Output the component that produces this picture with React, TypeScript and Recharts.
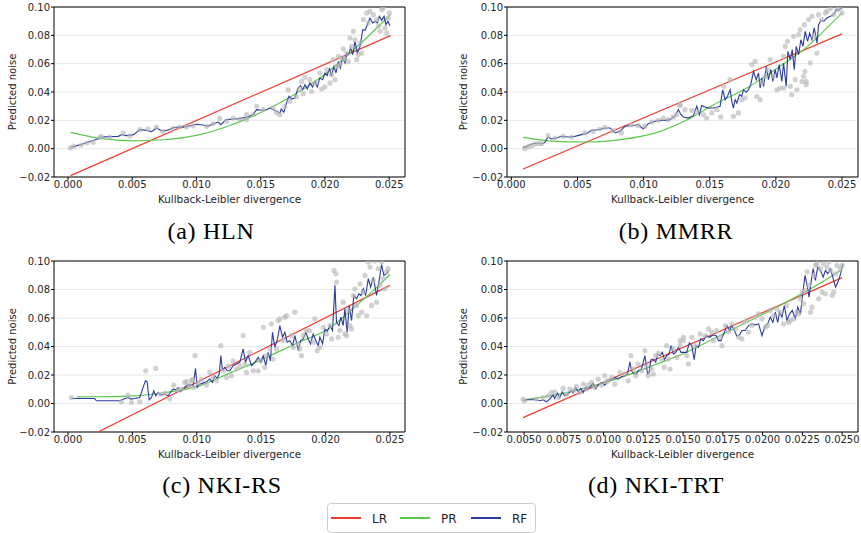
import React from 'react';
import { ComposedChart, Line, Scatter, XAxis, YAxis, CartesianGrid, ReferenceArea } from 'recharts';

type P = [number, number];

// ---------- (a) HLN ----------
const hlnLR: P[] = [[0.0002, -0.019], [0.0251, 0.0798]];
const hlnPR: P[] = [[0.0002, 0.0115], [0.0025, 0.0072], [0.005, 0.0055], [0.0075, 0.0063], [0.010, 0.0094], [0.0125, 0.0160], [0.015, 0.0255], [0.0175, 0.0375], [0.020, 0.0525], [0.0225, 0.0720], [0.0251, 0.0946]];
const hlnRF: P[] = [[0.0002,0.001],[0.0005,0.0016],[0.0012,0.0035],[0.0017,0.005],[0.0022,0.0064],[0.0026,0.0082],[0.0032,0.0085],[0.0039,0.0087],[0.0042,0.010],[0.0045,0.0092],[0.0051,0.0099],[0.0056,0.0134],[0.0061,0.0129],[0.0065,0.012],[0.0069,0.0146],[0.0073,0.0125],[0.0077,0.0129],[0.0082,0.0148],[0.0086,0.0153],[0.009,0.0151],[0.0095,0.0162],[0.010,0.0172],[0.0105,0.0167],[0.0109,0.0158],[0.0113,0.0176],[0.0117,0.0188],[0.0119,0.0169],[0.0123,0.0205],[0.0129,0.0209],[0.0134,0.0212],[0.0139,0.0224],[0.0144,0.024],[0.01468,0.0275],[0.01506,0.0271],[0.01545,0.0275],[0.0157,0.0287],[0.016,0.0275],[0.01623,0.0264],[0.0165,0.0252],[0.0166,0.028],[0.0168,0.0256],[0.017,0.0322],[0.0172,0.037],[0.0174,0.035],[0.01766,0.0358],[0.0179,0.0428],[0.0181,0.0445],[0.01826,0.0416],[0.01844,0.0452],[0.01862,0.0421],[0.01883,0.0464],[0.01904,0.0435],[0.01922,0.0475],[0.0194,0.0435],[0.0196,0.0499],[0.01982,0.0487],[0.02,0.0534],[0.02018,0.0515],[0.02034,0.0569],[0.0205,0.051],[0.0207,0.0581],[0.02086,0.0534],[0.02104,0.0616],[0.0212,0.0569],[0.02138,0.064],[0.02156,0.0605],[0.0217,0.0675],[0.02184,0.0664],[0.022,0.0711],[0.02216,0.0664],[0.02234,0.0758],[0.02252,0.0675],[0.02273,0.0722],[0.02294,0.084],[0.02312,0.0835],[0.0233,0.0875],[0.0235,0.0922],[0.02371,0.0887],[0.0239,0.0899],[0.02408,0.0887],[0.02423,0.0934],[0.02442,0.0906],[0.0246,0.0934],[0.02475,0.0875],[0.0249,0.0899],[0.02506,0.0868]];
const hlnPts: P[] = [[0.00018,0.0005],[0.00044,0.0016],[0.00104,0.0026],[0.00148,0.004],[0.00195,0.0045],[0.00247,0.0078],[0.0026,0.0087],[0.00325,0.0082],[0.00429,0.0111],[0.0048,0.0087],[0.00558,0.0134],[0.00623,0.0139],[0.00688,0.0153],[0.0074,0.0122],[0.00818,0.0144],[0.0087,0.0153],[0.00922,0.0153],[0.00974,0.0162],[0.01078,0.0158],[0.0113,0.0176],[0.01182,0.0214],[0.01234,0.0193],[0.01338,0.0209],[0.0139,0.024],[0.01442,0.024],[0.01286,0.0216],[0.0139,0.0205],[0.01468,0.0299],[0.0152,0.0275],[0.01597,0.0287],[0.01623,0.0256],[0.01649,0.024],[0.01688,0.0299],[0.01714,0.0416],[0.01727,0.0334],[0.01779,0.0369],[0.01805,0.0421],[0.01818,0.0475],[0.01831,0.0388],[0.01844,0.0504],[0.01883,0.0487],[0.01896,0.0405],[0.01922,0.0464],[0.01961,0.0534],[0.01974,0.0421],[0.02,0.0435],[0.02013,0.0558],[0.02039,0.0464],[0.02052,0.0522],[0.02065,0.0628],[0.02078,0.0487],[0.02091,0.0581],[0.02104,0.0652],[0.02117,0.0593],[0.0213,0.064],[0.02143,0.0704],[0.02156,0.0633],[0.02169,0.0675],[0.02182,0.0616],[0.02195,0.0781],[0.02208,0.0722],[0.02221,0.0828],[0.02234,0.0769],[0.02247,0.0628],[0.0226,0.0664],[0.02273,0.0746],[0.02286,0.0675],[0.02299,0.0911],[0.02325,0.0958],[0.02338,0.0887],[0.02351,0.0969],[0.02377,0.0946],[0.02403,0.0911],[0.02416,0.0864],[0.02429,0.0828],[0.02442,0.0981],[0.02455,0.0993],[0.02468,0.0852],[0.02481,0.0816],[0.02494,0.0922],[0.02501,0.0958]];

// ---------- (b) MMRR ----------
const mmrrLR: P[] = [[0.00088, -0.0144], [0.025, 0.081]];
const mmrrPR: P[] = [[0.0009,0.008],[0.0033,0.0052],[0.0058,0.0047],[0.0083,0.0064],[0.0109,0.0111],[0.0131,0.0195],[0.0153,0.031],[0.0178,0.0428],[0.0203,0.0581],[0.0224,0.0722],[0.0236,0.0828],[0.025,0.0958]];
const mmrrRF: P[] = [[0.00088,0.0009],[0.00114,0.0016],[0.00139,0.0028],[0.00164,0.0035],[0.00189,0.004],[0.00227,0.0033],[0.00253,0.0045],[0.00278,0.0082],[0.00303,0.0068],[0.00341,0.0075],[0.00379,0.0087],[0.00429,0.0082],[0.0048,0.0087],[0.0053,0.0099],[0.00568,0.0106],[0.00606,0.0129],[0.00657,0.0134],[0.00707,0.0146],[0.00745,0.0146],[0.00783,0.0111],[0.00821,0.0122],[0.00859,0.0158],[0.00909,0.0162],[0.0096,0.0169],[0.00997,0.0139],[0.01035,0.0176],[0.01086,0.0193],[0.01124,0.02],[0.01162,0.02],[0.012,0.0205],[0.01237,0.0233],[0.01263,0.0275],[0.01283,0.024],[0.01301,0.0224],[0.01338,0.0216],[0.01376,0.0233],[0.01402,0.0299],[0.01422,0.024],[0.01439,0.0304],[0.01465,0.0294],[0.01489,0.0287],[0.01528,0.0287],[0.01578,0.0299],[0.01598,0.0416],[0.01616,0.0346],[0.01634,0.037],[0.01654,0.0416],[0.01667,0.0334],[0.01679,0.0287],[0.01692,0.0346],[0.01705,0.0322],[0.01725,0.0381],[0.01742,0.037],[0.01755,0.0416],[0.01775,0.0398],[0.01793,0.0416],[0.0181,0.0452],[0.01831,0.0546],[0.01851,0.0487],[0.01869,0.0534],[0.01881,0.0428],[0.01894,0.0499],[0.01907,0.044],[0.01927,0.0581],[0.01944,0.0487],[0.01962,0.0558],[0.01977,0.0475],[0.01995,0.0558],[0.02008,0.0499],[0.02025,0.0593],[0.02045,0.0475],[0.02058,0.0605],[0.02078,0.044],[0.02091,0.0687],[0.02109,0.0628],[0.02124,0.0699],[0.02139,0.0558],[0.02154,0.0722],[0.02172,0.0664],[0.02189,0.0769],[0.02205,0.0722],[0.02222,0.0828],[0.0224,0.0758],[0.02255,0.0816],[0.02273,0.0769],[0.0229,0.0852],[0.02311,0.0746],[0.02323,0.0875],[0.02341,0.0906],[0.02361,0.0899],[0.02386,0.0922],[0.02412,0.0934],[0.02437,0.0946],[0.02457,0.0981],[0.02475,0.0976],[0.025,0.1]];
const mmrrPts: P[] = [[0.00101,0.0],[0.00126,0.0012],[0.00152,0.0021],[0.00177,0.0033],[0.00202,0.0035],[0.00227,0.0035],[0.00278,0.0092],[0.00328,0.0075],[0.00391,0.0087],[0.00455,0.0082],[0.00556,0.0111],[0.00619,0.0122],[0.00669,0.0139],[0.00707,0.0151],[0.0077,0.0129],[0.00833,0.0111],[0.00909,0.0169],[0.0096,0.0162],[0.0101,0.0158],[0.01061,0.0188],[0.01111,0.02],[0.01149,0.0216],[0.01187,0.0205],[0.01225,0.0224],[0.0125,0.024],[0.01275,0.0311],[0.01275,0.0304],[0.01313,0.0275],[0.01364,0.0271],[0.01402,0.0256],[0.01452,0.024],[0.01477,0.0216],[0.01515,0.0252],[0.01553,0.0275],[0.01583,0.0224],[0.01604,0.044],[0.01654,0.0487],[0.01679,0.0228],[0.01717,0.0252],[0.01742,0.0346],[0.01768,0.0358],[0.01818,0.0593],[0.01843,0.0616],[0.01856,0.0369],[0.01881,0.0346],[0.01894,0.0468],[0.01919,0.0511],[0.01937,0.0558],[0.01957,0.0628],[0.01982,0.0511],[0.02008,0.0416],[0.02033,0.0428],[0.02058,0.0652],[0.0207,0.0722],[0.02088,0.0758],[0.02109,0.044],[0.02134,0.0793],[0.02146,0.0487],[0.02159,0.0416],[0.02172,0.0805],[0.02184,0.084],[0.02197,0.0475],[0.0221,0.0511],[0.02215,0.0875],[0.0223,0.0452],[0.02247,0.0911],[0.0226,0.0605],[0.02273,0.0934],[0.02285,0.0793],[0.02311,0.0675],[0.02323,0.0946],[0.02348,0.0911],[0.02374,0.0958],[0.02386,0.0969],[0.02412,0.0986],[0.02437,0.0946],[0.02462,0.0981],[0.02487,0.0993],[0.025,0.0958],[0.0212,0.038],[0.0206,0.0428],[0.0222,0.0546],[0.0223,0.0475]];

// ---------- (c) NKI-RS ----------
const rsLR: P[] = [[0.0007, -0.0274], [0.025, 0.0829]];
const rsPR: P[] = [[0.0007,0.0047],[0.003,0.0048],[0.0051,0.0054],[0.0076,0.0077],[0.0102,0.0124],[0.0126,0.0215],[0.0152,0.0315],[0.0178,0.0425],[0.0203,0.0528],[0.0224,0.0688],[0.024,0.0817],[0.025,0.0905]];
const rsRF: P[] = [[0.00026,0.0035],[0.00117,0.0035],[0.00207,0.0035],[0.0022,0.0019],[0.00298,0.0019],[0.00402,0.0019],[0.00433,0.0031],[0.00466,0.0042],[0.00492,0.0031],[0.00518,0.0035],[0.00557,0.0042],[0.00583,0.0113],[0.00601,0.016],[0.00614,0.0153],[0.0063,0.0026],[0.00648,0.0042],[0.00666,0.0089],[0.00681,0.0054],[0.00699,0.0077],[0.00725,0.0059],[0.00751,0.0066],[0.00777,0.0054],[0.00795,0.0077],[0.00816,0.0101],[0.00837,0.0096],[0.00855,0.0113],[0.00873,0.0082],[0.00894,0.0106],[0.0092,0.0124],[0.00946,0.0136],[0.00972,0.0124],[0.0099,0.0246],[0.01003,0.0113],[0.01023,0.0136],[0.01049,0.0143],[0.01075,0.0153],[0.01101,0.0171],[0.01122,0.0148],[0.0114,0.0195],[0.01158,0.0176],[0.01174,0.0207],[0.01187,0.0336],[0.01199,0.0237],[0.01218,0.0254],[0.01236,0.023],[0.01256,0.023],[0.01282,0.0265],[0.01308,0.0277],[0.01334,0.0289],[0.0136,0.0383],[0.01378,0.0289],[0.01399,0.0336],[0.01425,0.0265],[0.01451,0.0289],[0.01477,0.0324],[0.01497,0.0289],[0.01516,0.0336],[0.01536,0.0265],[0.01554,0.0359],[0.01572,0.03],[0.01588,0.05],[0.01606,0.0394],[0.01627,0.0453],[0.01645,0.0547],[0.01666,0.0465],[0.01684,0.05],[0.01702,0.043],[0.01723,0.0441],[0.01744,0.0406],[0.01762,0.0477],[0.01788,0.0371],[0.01806,0.0441],[0.01826,0.0453],[0.01847,0.05],[0.01865,0.0453],[0.01883,0.0418],[0.01904,0.0488],[0.01925,0.0441],[0.01943,0.0406],[0.01956,0.0465],[0.01977,0.0418],[0.01995,0.0523],[0.02013,0.0505],[0.02034,0.0547],[0.02054,0.0512],[0.02073,0.0829],[0.02085,0.057],[0.02104,0.0547],[0.02119,0.0606],[0.02137,0.0547],[0.0215,0.0664],[0.02168,0.05],[0.02184,0.0688],[0.02202,0.0582],[0.0222,0.0758],[0.02241,0.0735],[0.02259,0.077],[0.02275,0.0758],[0.02293,0.0805],[0.02311,0.0758],[0.02332,0.0876],[0.0235,0.0817],[0.02371,0.0887],[0.02396,0.0758],[0.02414,0.0852],[0.02435,0.0974],[0.02453,0.0899],[0.02474,0.0911],[0.02492,0.0934]];
const rsPts: P[] = [[0.00026,0.0042],[0.00415,0.0012],[0.00466,0.0059],[0.00492,0.0007],[0.00557,0.0012],[0.00604,0.023],[0.00681,0.0246],[0.00712,0.0066],[0.00751,0.0073],[0.0079,0.0031],[0.00821,0.0129],[0.00855,0.0096],[0.00881,0.0101],[0.00907,0.0148],[0.0092,0.0153],[0.00946,0.0124],[0.00959,0.016],[0.00966,0.0167],[0.00977,0.0113],[0.00987,0.0336],[0.0101,0.0143],[0.01036,0.0167],[0.01075,0.0129],[0.01101,0.0218],[0.01127,0.0183],[0.01153,0.016],[0.01187,0.0406],[0.01205,0.023],[0.01231,0.0183],[0.01244,0.0261],[0.01269,0.0195],[0.01282,0.03],[0.01308,0.0242],[0.01334,0.0265],[0.0136,0.0477],[0.01373,0.0277],[0.01386,0.0218],[0.01412,0.0359],[0.01438,0.023],[0.01477,0.023],[0.01495,0.03],[0.01516,0.0535],[0.01528,0.0254],[0.01541,0.0336],[0.01567,0.0383],[0.0158,0.0559],[0.01593,0.0312],[0.01619,0.0383],[0.01632,0.0582],[0.01645,0.0594],[0.01671,0.0441],[0.01684,0.0606],[0.01697,0.0617],[0.01736,0.0477],[0.01762,0.0641],[0.01749,0.0394],[0.01788,0.0418],[0.01801,0.0383],[0.01813,0.0336],[0.01826,0.0477],[0.01852,0.0512],[0.01878,0.0512],[0.01904,0.043],[0.01917,0.0594],[0.01935,0.0371],[0.01956,0.0394],[0.01982,0.0535],[0.02008,0.0488],[0.02034,0.0547],[0.02047,0.0453],[0.02065,0.0934],[0.0208,0.0911],[0.02085,0.0852],[0.02098,0.0465],[0.02111,0.0512],[0.02137,0.0711],[0.0215,0.0488],[0.02163,0.0477],[0.02176,0.0653],[0.02189,0.0547],[0.02202,0.0523],[0.02215,0.0758],[0.02228,0.0805],[0.02241,0.0688],[0.02254,0.0617],[0.02267,0.084],[0.0228,0.0641],[0.02293,0.0782],[0.02306,0.0899],[0.02319,0.0617],[0.02332,0.0993],[0.02345,0.0958],[0.02358,0.0688],[0.0237,0.0864],[0.02383,0.1],[0.02396,0.0711],[0.02409,0.0946],[0.02422,0.0829],[0.02435,0.0993],[0.02448,0.0876],[0.02461,0.0805],[0.02474,0.0923],[0.02487,0.0946]];

// ---------- (d) NKI-TRT ----------
const trtLR: P[] = [[0.00494, -0.0099], [0.025, 0.0883]];
const trtPR: P[] = [[0.0049,0.0026],[0.0069,0.0059],[0.009,0.0113],[0.0111,0.0183],[0.0132,0.027],[0.0151,0.0354],[0.0169,0.0453],[0.019,0.057],[0.0211,0.0688],[0.0232,0.0817],[0.0249,0.0934]];
const trtRF: P[] = [[0.00494,0.0019],[0.00525,0.0026],[0.00567,0.0026],[0.00599,0.0019],[0.0062,0.0026],[0.00641,0.0012],[0.00662,0.0031],[0.00683,0.0059],[0.00693,0.0035],[0.0071,0.0073],[0.00725,0.0042],[0.0074,0.0082],[0.00756,0.0054],[0.00777,0.0066],[0.00794,0.0089],[0.00809,0.0073],[0.00824,0.0113],[0.0084,0.0082],[0.00857,0.0106],[0.00872,0.0077],[0.00887,0.0113],[0.00903,0.0101],[0.0092,0.0124],[0.00935,0.0143],[0.0095,0.0101],[0.00966,0.0129],[0.00987,0.0148],[0.01008,0.0129],[0.01029,0.016],[0.0105,0.0167],[0.01071,0.0183],[0.01092,0.0171],[0.01113,0.019],[0.01134,0.0195],[0.01151,0.0207],[0.01166,0.0293],[0.01176,0.023],[0.01193,0.0207],[0.01208,0.0207],[0.01218,0.023],[0.01239,0.0242],[0.0126,0.0336],[0.01277,0.0207],[0.01286,0.0214],[0.01298,0.0308],[0.01313,0.0312],[0.01328,0.0289],[0.0134,0.0347],[0.01355,0.0336],[0.0137,0.0359],[0.01382,0.0308],[0.01397,0.0336],[0.01412,0.0347],[0.01424,0.0406],[0.01439,0.0347],[0.01454,0.0359],[0.01471,0.0394],[0.01487,0.0359],[0.01523,0.0359],[0.0154,0.0425],[0.01555,0.0406],[0.0157,0.0308],[0.01582,0.0406],[0.01597,0.0394],[0.01611,0.0453],[0.01628,0.0441],[0.01645,0.0477],[0.01666,0.0465],[0.01687,0.0481],[0.01708,0.0477],[0.01723,0.0441],[0.01738,0.0441],[0.01755,0.0488],[0.01776,0.0547],[0.01792,0.0512],[0.01807,0.0547],[0.01822,0.0512],[0.01839,0.0472],[0.01855,0.0481],[0.0187,0.0512],[0.01891,0.0512],[0.01912,0.0547],[0.01933,0.0559],[0.01954,0.0552],[0.01975,0.0559],[0.01996,0.0477],[0.02017,0.0547],[0.02032,0.0559],[0.02048,0.0606],[0.02065,0.057],[0.0208,0.0641],[0.02095,0.057],[0.02107,0.0641],[0.02122,0.0606],[0.02137,0.0688],[0.02153,0.0582],[0.0217,0.0629],[0.02187,0.0653],[0.02206,0.0594],[0.02221,0.0676],[0.02238,0.0629],[0.02255,0.0793],[0.02267,0.0899],[0.0228,0.0829],[0.02292,0.0746],[0.02305,0.0852],[0.02318,0.0946],[0.02332,0.0864],[0.02347,0.0958],[0.02364,0.0934],[0.02381,0.0887],[0.02395,0.0934],[0.0241,0.0911],[0.02427,0.0946],[0.02444,0.0876],[0.02459,0.0817],[0.02474,0.0852],[0.02491,0.0911],[0.02506,0.0981]];
const trtPts: P[] = [[0.00494,0.0031],[0.00504,0.0019],[0.00578,0.0031],[0.0062,0.0042],[0.00651,0.0054],[0.00672,0.0077],[0.00693,0.0082],[0.00714,0.0042],[0.00746,0.0106],[0.00767,0.0066],[0.00788,0.0101],[0.00809,0.0089],[0.0083,0.012],[0.00851,0.0077],[0.00872,0.0136],[0.00893,0.0101],[0.00903,0.0129],[0.00924,0.0148],[0.00945,0.0113],[0.00966,0.0171],[0.00987,0.0129],[0.01008,0.0195],[0.01019,0.0153],[0.01029,0.016],[0.0105,0.0183],[0.01071,0.0136],[0.01103,0.0218],[0.01134,0.0207],[0.01155,0.016],[0.01172,0.0336],[0.01187,0.0242],[0.01202,0.0195],[0.01218,0.0277],[0.01239,0.023],[0.0126,0.0371],[0.01271,0.0265],[0.01282,0.0195],[0.01303,0.0242],[0.01313,0.0207],[0.01328,0.0336],[0.01345,0.0354],[0.01366,0.0312],[0.01382,0.0254],[0.01397,0.0406],[0.01408,0.0312],[0.01418,0.0242],[0.01439,0.0383],[0.0146,0.0324],[0.01481,0.0406],[0.01502,0.0441],[0.01481,0.0441],[0.01502,0.0465],[0.01523,0.0336],[0.01534,0.0277],[0.01555,0.0465],[0.01576,0.0406],[0.01607,0.0488],[0.01639,0.0477],[0.0166,0.0523],[0.01681,0.05],[0.01691,0.0441],[0.01712,0.0512],[0.01733,0.0465],[0.01744,0.0406],[0.01765,0.0547],[0.01786,0.0505],[0.01807,0.0559],[0.01828,0.0523],[0.01849,0.0465],[0.0187,0.0453],[0.0188,0.057],[0.01901,0.0582],[0.01912,0.05],[0.01933,0.0547],[0.01954,0.0606],[0.01975,0.0629],[0.01996,0.0594],[0.02017,0.0535],[0.02032,0.0547],[0.02048,0.0653],[0.02069,0.0617],[0.0209,0.0664],[0.02111,0.0641],[0.02132,0.0559],[0.02153,0.0688],[0.02164,0.057],[0.02174,0.0582],[0.02195,0.0594],[0.02216,0.0641],[0.02227,0.0629],[0.02237,0.0735],[0.02248,0.0782],[0.02258,0.07],[0.02269,0.0793],[0.0228,0.0923],[0.0229,0.0829],[0.02301,0.0641],[0.02311,0.0676],[0.02322,0.0899],[0.02332,0.0969],[0.02343,0.0981],[0.02353,0.0735],[0.02363,0.0946],[0.02374,0.0782],[0.02384,0.0981],[0.02395,0.077],[0.02405,0.0958],[0.02416,0.0993],[0.02426,0.0934],[0.02437,0.0758],[0.02447,0.0782],[0.02458,0.0911],[0.02468,0.0969],[0.02489,0.0946],[0.025,0.0969]];

// ---------- axes ----------
const yTicks = [-0.02, 0, 0.02, 0.04, 0.06, 0.08, 0.1];
const xTicksABC = [0, 0.005, 0.01, 0.015, 0.02, 0.025];
const xTicksD = [0.005, 0.0075, 0.01, 0.0125, 0.015, 0.0175, 0.02, 0.0225, 0.025];
const legendNames = ['LR', 'PR', 'RF'];
const captions = ['(a) HLN', '(b) MMRR', '(c) NKI-RS', '(d) NKI-TRT'];

const RED = '#ee3b2d';
const GREEN = '#5cc94c';
const BLUE = '#2c3b9e';
const COLORS = [RED, GREEN, BLUE];
const FONT = 'DejaVu Sans';

const toObj = (arr: P[]) => arr.map(([x, y]) => ({ x, y }));

const fmtY = (v: number) => (v < 0 ? '\u2212' + Math.abs(v).toFixed(2) : v.toFixed(2));

const Dot = (props: any) => (
  <circle cx={props.cx} cy={props.cy} r={2.6} fill="#b8b8b8" fillOpacity={0.65} />
);

interface PanelProps {
  lr: P[]; pr: P[]; rf: P[]; pts: P[];
  xDomain: [number, number];
  xTicks: number[];
  xDigits: number;
  yAxisWidth: number;
  yLabelOffset: number;
  marginRight: number;
  width: number;
  height: number;
}

function Panel(p: PanelProps) {
  const tick = { fontSize: 10, fontFamily: FONT, fill: '#262626' };
  return (
    <ComposedChart
      width={p.width}
      height={p.height}
      margin={{ top: 7, right: p.marginRight, bottom: 0, left: 0 }}
    >
      <CartesianGrid vertical={false} stroke="#e8e8e8" strokeWidth={1} />
      <XAxis
        type="number"
        dataKey="x"
        domain={p.xDomain}
        allowDataOverflow
        ticks={p.xTicks}
        tickFormatter={(v: number) => v.toFixed(p.xDigits)}
        height={33}
        axisLine={false}
        tickLine={{ stroke: '#000' }}
        tickSize={3}
        tickMargin={1}
        tick={tick}
        interval={0}
        label={{ value: 'Kullback-Leibler divergence', position: 'insideBottom', offset: 7, style: { fontSize: 10.4, fontFamily: FONT, fill: '#262626' } }}
      />
      <YAxis
        type="number"
        dataKey="y"
        domain={[-0.02, 0.1]}
        allowDataOverflow
        ticks={yTicks}
        tickFormatter={fmtY}
        width={p.yAxisWidth}
        axisLine={false}
        tickLine={{ stroke: '#000' }}
        tickSize={3}
        tickMargin={1}
        tick={tick}
        interval={0}
        label={{ value: 'Predicted noise', angle: -90, position: 'insideLeft', offset: p.yLabelOffset, style: { textAnchor: 'middle', fontSize: 10, fontFamily: FONT, fill: '#262626' } }}
      />
      <Scatter data={toObj(p.pts)} dataKey="y" shape={Dot} isAnimationActive={false} />
      <Line data={toObj(p.lr)} dataKey="y" type="linear" stroke={RED} strokeWidth={1.2} dot={false} isAnimationActive={false} />
      <Line data={toObj(p.pr)} dataKey="y" type="monotone" stroke={GREEN} strokeWidth={1.2} dot={false} isAnimationActive={false} />
      <Line data={toObj(p.rf)} dataKey="y" type="linear" stroke={BLUE} strokeWidth={1.1} dot={false} isAnimationActive={false} />
      <ReferenceArea x1={p.xDomain[0]} x2={p.xDomain[1]} y1={-0.02} y2={0.1} fill="none" fillOpacity={0} stroke="#000" strokeWidth={1} ifOverflow="visible" />
    </ComposedChart>
  );
}

const captionStyle = (center: number, top: number): React.CSSProperties => ({
  position: 'absolute', left: center - 150, top, width: 300, textAlign: 'center',
  fontFamily: 'Liberation Serif', fontSize: 24, letterSpacing: '0.7px', color: '#000', lineHeight: '26px',
});

export default function App() {
  return (
    <div style={{ position: 'absolute', left: 0, top: 0, width: 861, height: 533, background: '#fff', overflow: 'hidden' }}>
      <div style={{ position: 'absolute', left: 0, top: 0 }}>
        <Panel lr={hlnLR} pr={hlnPR} rf={hlnRF} pts={hlnPts} xDomain={[-0.00109, 0.02623]} xTicks={xTicksABC} xDigits={3}
          yAxisWidth={54} yLabelOffset={12} marginRight={25} width={430} height={210} />
      </div>
      <div style={{ position: 'absolute', left: 430, top: 0 }}>
        <Panel lr={mmrrLR} pr={mmrrPR} rf={mmrrRF} pts={mmrrPts} xDomain={[-0.00033, 0.02621]} xTicks={xTicksABC} xDigits={3}
          yAxisWidth={77} yLabelOffset={33} marginRight={3} width={431} height={210} />
      </div>
      <div style={{ position: 'absolute', left: 0, top: 254 }}>
        <Panel lr={rsLR} pr={rsPR} rf={rsRF} pts={rsPts} xDomain={[-0.00109, 0.02617]} xTicks={xTicksABC} xDigits={3}
          yAxisWidth={54} yLabelOffset={12} marginRight={25} width={430} height={211} />
      </div>
      <div style={{ position: 'absolute', left: 430, top: 254 }}>
        <Panel lr={trtLR} pr={trtPR} rf={trtRF} pts={trtPts} xDomain={[0.00393, 0.026]} xTicks={xTicksD} xDigits={4}
          yAxisWidth={77} yLabelOffset={33} marginRight={3} width={431} height={211} />
      </div>

      <div style={captionStyle(211, 218)}>{captions[0]}</div>
      <div style={captionStyle(676, 218)}>{captions[1]}</div>
      <div style={captionStyle(222, 472)}>{captions[2]}</div>
      <div style={captionStyle(656, 472)}>{captions[3]}</div>

      <svg style={{ position: 'absolute', left: 327, top: 503 }} width={209} height={30}>
        <rect x={0.5} y={0.5} width={208} height={29} rx={3} fill="#fff" stroke="#cccccc" strokeWidth={1} />
        {legendNames.map((name, i) => {
          const x0 = [4, 73, 144][i];
          return (
            <g key={name}>
              <line x1={x0} x2={x0 + 30} y1={15} y2={15} stroke={COLORS[i]} strokeWidth={2} />
              <text x={x0 + 41} y={19.5} fontSize={12} fontFamily={FONT} fill="#222">{name}</text>
            </g>
          );
        })}
      </svg>
    </div>
  );
}
